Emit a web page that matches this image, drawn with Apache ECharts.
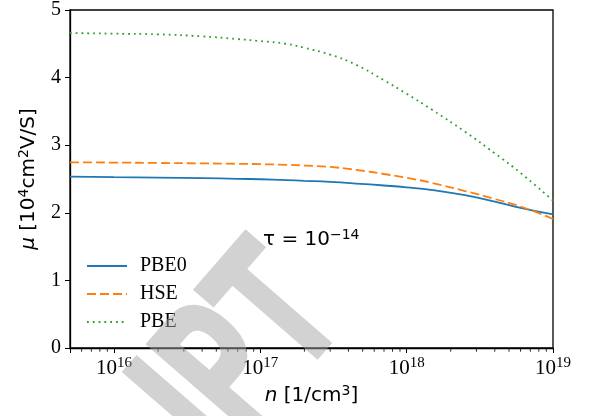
<!DOCTYPE html>
<html><head><meta charset="utf-8">
<script src="https://cdn.jsdelivr.net/npm/echarts@6/dist/echarts.min.js"></script>
<style>html,body{margin:0;padding:0;background:#fff}#c{width:592px;height:416px}</style>
</head><body><div id="c"></div>
<script>
// carrier density n [1/cm^3]
const densities = [5e15, 1e16, 2e16, 4e16, 7e16, 1e17, 1.5e17, 2e17, 3e17, 4.5e17, 7e17, 1e18, 1.5e18, 2.5e18, 4e18, 6e18, 1e19];
// mobility mu [10^4 cm^2/Vs]
const pbe0 = [2.534, 2.527, 2.521, 2.512, 2.503, 2.496, 2.484, 2.473, 2.456, 2.433, 2.404, 2.377, 2.337, 2.263, 2.167, 2.074, 1.975];
const hse  = [2.747, 2.743, 2.737, 2.731, 2.725, 2.719, 2.710, 2.700, 2.678, 2.636, 2.574, 2.518, 2.441, 2.322, 2.204, 2.093, 1.908];
const pbe  = [4.66, 4.65, 4.64, 4.61, 4.57, 4.54, 4.50, 4.44, 4.34, 4.19, 3.96, 3.76, 3.52, 3.20, 2.88, 2.59, 2.18];
const seriesNames = ['PBE0', 'HSE', 'PBE'];
const xMin = 5e15, xMax = 1e19;
const yTicks = [0, 1, 2, 3, 4, 5];
const minorTicks = [6e15, 7e15, 8e15, 9e15,
  2e16, 3e16, 4e16, 5e16, 6e16, 7e16, 8e16, 9e16,
  2e17, 3e17, 4e17, 5e17, 6e17, 7e17, 8e17, 9e17,
  2e18, 3e18, 4e18, 5e18, 6e18, 7e18, 8e18, 9e18];
const annotation = '{b|τ = 10}{s|−14}';
const watermark = ['I', 'P', 'T'];

const zip = (ys) => densities.map((x, i) => [x, ys[i]]);
const SERIF = '"Liberation Serif", "DejaVu Serif", serif';
const SANS = '"DejaVu Sans", sans-serif';
const supRich = (fam, base, sup, raise) => ({
  b: {fontFamily: fam, fontSize: base, verticalAlign: 'bottom'},
  i: {fontFamily: fam, fontSize: base, fontStyle: 'italic', verticalAlign: 'bottom'},
  s: {fontFamily: fam, fontSize: sup, padding: [0, 0, raise, 0], verticalAlign: 'bottom'}
});

const chart = echarts.init(document.getElementById('c'), null, {renderer: 'canvas'});
const wmPos = [-140, -82, -2.5];
chart.setOption({
  animation: false,
  backgroundColor: '#fff',
  grid: {left: 70, right: 39, top: 10, bottom: 68, show: true, borderColor: '#000', borderWidth: 1.3, backgroundColor: 'transparent'},
  xAxis: {
    type: 'log', min: xMin, max: xMax,
    name: '{i|n}{b| [1/cm}{s|3}{b|]}', nameLocation: 'middle', nameGap: 57,
    nameTextStyle: {fontFamily: SANS, fontSize: 20, color: '#000', verticalAlign: 'bottom', rich: supRich(SANS, 20, 14, 8)},
    axisLine: {lineStyle: {color: '#000', width: 1.3}},
    axisTick: {length: 5, lineStyle: {color: '#000', width: 1}},
    splitLine: {show: false},
    axisLabel: {
      color: '#000', fontFamily: SERIF, fontSize: 21, margin: 8,
      formatter: (v) => {
        const e = Math.round(Math.log10(v));
        if (Math.abs(v / Math.pow(10, e) - 1) > 1e-6) return '';
        return '{b|10}{s|' + e + '}';
      },
      rich: supRich(SERIF, 21, 15, 8)
    }
  },
  yAxis: {
    type: 'value', min: yTicks[0], max: yTicks[yTicks.length - 1], interval: 1,
    name: '{i|μ}{b| [10}{s|4}{b|cm}{s|2}{b|V/S]}', nameLocation: 'middle', nameGap: 31, nameRotate: 90,
    nameTextStyle: {fontFamily: SANS, fontSize: 20, color: '#000', verticalAlign: 'bottom', rich: supRich(SANS, 20, 14, 8)},
    axisLine: {show: true, lineStyle: {color: '#000', width: 1.3}},
    axisTick: {show: true, length: 5, lineStyle: {color: '#000', width: 1}},
    splitLine: {show: false},
    axisLabel: {color: '#000', fontFamily: SERIF, fontSize: 20, margin: 9}
  },
  legend: {
    data: seriesNames, orient: 'vertical', left: 81, top: 251, itemWidth: 40, itemHeight: 14, itemGap: 8,
    textStyle: {fontFamily: SERIF, fontSize: 20, color: '#000', padding: [0, 0, 0, 8]},
    itemStyle: {opacity: 0}
  },
  series: [
    {name: seriesNames[0], type: 'line', data: zip(pbe0), smooth: 0.5, symbol: 'none',
     lineStyle: {color: '#1f77b4', width: 1.8}, itemStyle: {color: '#1f77b4'}, z: 3},
    {name: seriesNames[1], type: 'line', data: zip(hse), smooth: 0.5, symbol: 'none',
     lineStyle: {color: '#ff7f0e', width: 1.8, type: [9, 4]}, itemStyle: {color: '#ff7f0e'}, z: 4},
    {name: seriesNames[2], type: 'line', data: zip(pbe), smooth: 0.5, symbol: 'none',
     lineStyle: {color: '#2ca02c', width: 1.8, type: [1.8, 4]}, itemStyle: {color: '#2ca02c'}, z: 5},
    {name: 'minor', type: 'scatter', data: minorTicks.map(v => [v, 0]), symbol: 'rect',
     symbolSize: [1, 3], symbolOffset: [0, 2.2], itemStyle: {color: '#000'}, silent: true, clip: false, z: 6}
  ],
  graphic: [
    {type: 'text', left: 263, top: 228, z: 20,
     style: {text: annotation, fill: '#000', rich: supRich(SANS, 20, 14, 8)}},
    {type: 'group', x: 227, y: 263, rotation: 49 * Math.PI / 180, z: 50, silent: true,
     children: watermark.map((ch, i) => ({
       type: 'text', x: wmPos[i], y: 82, scaleX: 0.62, z: 50,
       style: {text: ch, fontFamily: SANS, fontWeight: 'bold', fontSize: 192,
         fill: 'rgba(165,165,165,0.5)', align: 'center', verticalAlign: 'middle'}
     }))}
  ]
});
</script></body></html>
